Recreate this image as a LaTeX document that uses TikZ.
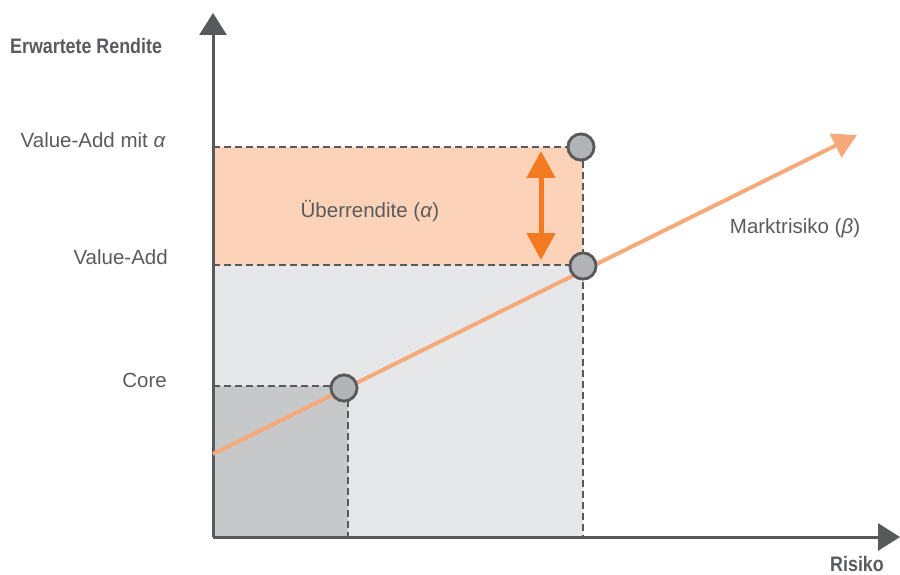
\documentclass[tikz,border=0pt]{standalone}
\usepackage{fontspec}
\setmainfont{Liberation Sans}
\usetikzlibrary{arrows.meta}
\definecolor{axisgray}{HTML}{58595B}
\definecolor{txtgray}{HTML}{5A5B5D}
\definecolor{lightgray}{HTML}{E6E7E8}
\definecolor{midgray}{HTML}{C7C8CA}
\definecolor{dotgray}{HTML}{B1B3B6}
\definecolor{peach}{HTML}{FCD3B8}
\definecolor{lineorange}{HTML}{F6A97A}
\definecolor{deeporange}{HTML}{F37A21}
\tikzset{
  axisline/.style={draw=axisgray, line width=3pt, -{Triangle[length=22pt,width=27pt]}},
  dashline/.style={draw=axisgray, line width=2.7pt, dash pattern=on 7pt off 4pt},
  dot/.style={circle, draw=axisgray, line width=2.7pt, fill=dotgray, minimum size=26pt, inner sep=0pt},
  lbl/.style={text=txtgray, font=\fontsize{20.5}{24}\selectfont, inner sep=0pt},
  axlbl/.style={text=txtgray, font=\fontsize{21}{24}\selectfont\bfseries, inner sep=0pt},
}
\begin{document}
\begin{tikzpicture}[x=1pt,y=-1pt]
\useasboundingbox (0,0) rectangle (900,575);
% areas
\fill[peach] (213,147) rectangle (583,265);
\fill[lightgray] (213,265) rectangle (583,537);
\fill[midgray] (213,386) rectangle (348,537);
% coordinates
\coordinate (o) at (213,537);
\coordinate (ytop) at (213,13);
\coordinate (xend) at (900,537);
\coordinate (yva) at (213,147);
\coordinate (yv) at (213,265);
\coordinate (yc) at (213,386);
\coordinate (xv) at (583,537);
\coordinate (xc) at (348,537);
\coordinate (cv) at (348,400);
\coordinate (ls) at (213,454);
\coordinate (le) at (857,135);
% circles
\node[dot] (pa) at (581,147) {};
\node[dot] (pv) at (583,266) {};
\node[dot] (pc) at (344,388) {};
% dashed guides
\draw[dashline] (yva) -- (yva -| pa.west);
\draw[dashline] (yv) -- (yv -| pv.west);
\draw[dashline] (xv |- pa.south) -- (xv);
\draw[dashline] (yc) -- (yc -| pc.west);
\draw[dashline] (cv) -- (xc);
% axes
\draw[axisline] (o) -- (ytop);
\draw[axisline] (o) -- (xend);
% market line
\draw[lineorange, line width=4pt, -{Triangle[length=24pt,width=26pt]}] (ls) -- (le);
% circles on top
\node[dot] at (pa) {};
\node[dot] at (pv) {};
\node[dot] at (pc) {};
% alpha arrow
\coordinate (at) at (541,151);
\coordinate (ab) at (541,260);
\draw[deeporange, line width=5pt, {Triangle[length=27pt,width=28pt]}-{Triangle[length=27pt,width=28pt]}] (at) -- (ab);
% labels
\node[axlbl, anchor=west] (ylab) at (10,46) {\addfontfeature{FakeStretch=0.85}Erwartete Rendite};
\node[axlbl, anchor=base east] (xlab) at (884,571) {\addfontfeature{FakeStretch=0.85}Risiko};
\node[lbl, anchor=east] (lva) at (166,140) {Value-Add mit \textit{α}};
\node[lbl, anchor=east] (lv) at (168,257) {Value-Add};
\node[lbl, anchor=east] (lc) at (167,380) {Core};
\node[lbl, anchor=center] (lu) at (370,211) {Überrendite (\textit{α})};
\node[lbl, anchor=center] (lm) at (795,228) {Marktrisiko (\textit{β})};
\end{tikzpicture}
\end{document}
